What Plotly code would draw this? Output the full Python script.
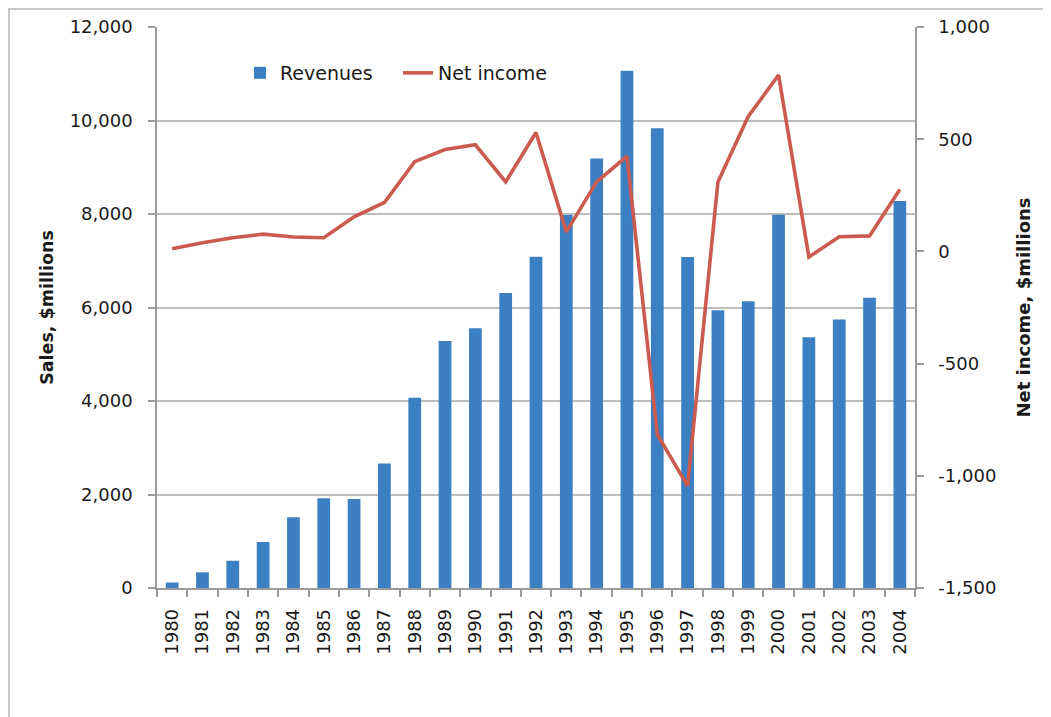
import plotly.graph_objects as go

years = [str(y) for y in range(1980, 2005)]
revenues = [117, 335, 583, 983, 1516, 1918, 1902, 2661, 4071, 5284, 5558, 6309, 7087,
            7977, 9189, 11062, 9833, 7081, 5941, 6134, 7983, 5363, 5742, 6207, 8279]
net_income = [12, 39, 61, 77, 64, 61, 154, 218, 400, 454, 475, 310, 530,
              87, 310, 424, -816, -1045, 309, 601, 786, -25, 65, 69, 276]

left_tickvals = [0, 2000, 4000, 6000, 8000, 10000, 12000]
left_ticktext = ["0", "2,000", "4,000", "6,000", "8,000", "10,000", "12,000"]
right_tickvals = [-1500, -1000, -500, 0, 500, 1000]
right_ticktext = ["-1,500", "-1,000", "-500", "0", "500", "1,000"]

# page body has an 8px margin, so the figure is drawn from (8, 8)
OFF = 8
W, H = 1051 - OFF, 717 - OFF
ML, MR, MT, MB = 157 - OFF, 136, 27 - OFF, 129
PW, PH = W - ML - MR, H - MT - MB
FONT = "DejaVu Sans"
TXT = "#1a1a1a"
GRID = "#bdbdbd"
AXIS = "#9a9a9a"


def px_x(x):
    return (x - OFF - ML) / PW


def px_y(y):
    return (H - MB - (y - OFF)) / PH


fig = go.Figure()
fig.add_trace(go.Bar(
    x=years, y=revenues, name="Revenues",
    marker=dict(color="#3d7fc3", line=dict(width=0)),
    width=0.42, yaxis="y",
))
fig.add_trace(go.Scatter(
    x=years, y=net_income, name="Net income", mode="lines",
    line=dict(color="#cb5a4f", width=3.6), yaxis="y2",
))

fig.update_layout(
    width=W, height=H,
    margin=dict(l=ML, r=MR, t=MT, b=MB, pad=0, autoexpand=False),
    paper_bgcolor="white", plot_bgcolor="white",
    font=dict(family=FONT, color=TXT),
    showlegend=True,
    legend=dict(
        orientation="h", x=px_x(240), y=px_y(73),
        xanchor="left", yanchor="middle",
        font=dict(family=FONT, size=19, color=TXT),
        bgcolor="rgba(0,0,0,0)", itemwidth=30, traceorder="normal",
        entrywidth=113, entrywidthmode="pixels",
    ),
    xaxis=dict(
        type="category", tickangle=-90, automargin=False,
        tickfont=dict(family=FONT, size=18, color=TXT),
        showline=True, linecolor=AXIS, linewidth=1.5,
        ticks="outside", ticklen=7, tickcolor=AXIS, tickwidth=1.5,
        tickson="boundaries", showgrid=False, ticklabelstandoff=12,
        range=[-0.5, len(years) - 0.5],
    ),
    yaxis=dict(
        range=[0, 12000], tickvals=left_tickvals, ticktext=left_ticktext, automargin=False,
        tickfont=dict(family=FONT, size=18, color=TXT),
        showgrid=True, gridcolor=GRID, gridwidth=1.5,
        showline=True, linecolor=AXIS, linewidth=1.5,
        ticks="outside", ticklen=7, tickcolor=AXIS, tickwidth=1.5,
        ticklabelstandoff=12, zeroline=False,
        title=dict(text="Sales, $millions", font=dict(family=FONT, size=17.5, color=TXT, weight="bold"), standoff=12),
    ),
    yaxis2=dict(
        range=[-1500, 1000], tickvals=right_tickvals, ticktext=right_ticktext,
        overlaying="y", side="right", anchor="x", automargin=False,
        tickfont=dict(family=FONT, size=18, color=TXT),
        showgrid=False, zeroline=False,
        showline=True, linecolor=AXIS, linewidth=1.5,
        ticks="outside", ticklen=7, tickcolor=AXIS, tickwidth=1.5,
        ticklabelstandoff=11,
        title=dict(text="Net income, $millions", font=dict(family=FONT, size=18, color=TXT, weight="bold"), standoff=22),
    ),
    yaxis3=dict(
        range=[-1500, 1000], tickvals=right_tickvals,
        overlaying="y", side="right", anchor="x", automargin=False,
        showticklabels=False, showgrid=False, zeroline=False, showline=False,
        ticks="inside", ticklen=7, tickcolor=AXIS, tickwidth=1.5,
    ),
    shapes=[dict(
        type="rect", xref="paper", yref="paper",
        x0=px_x(OFF + 1), x1=px_x(1051 + 20),
        y0=px_y(717 + 20), y1=px_y(OFF + 1),
        line=dict(color="#c8c8c8", width=2), fillcolor="rgba(0,0,0,0)", layer="below",
    )],
)

fig.write_html("out.html")
